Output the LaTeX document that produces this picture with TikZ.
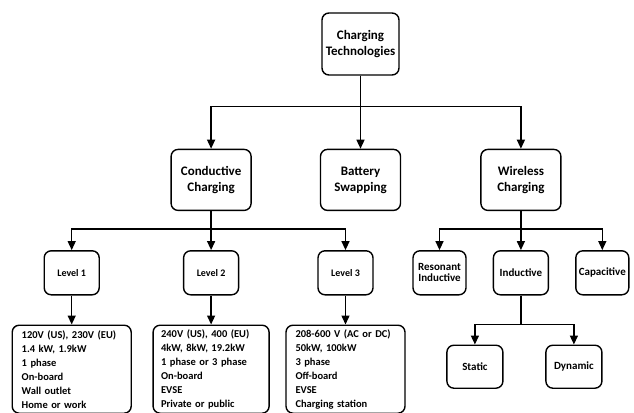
\documentclass[tikz,border=0pt]{standalone}
\usepackage{fontspec}
\setmainfont{Carlito}
\usetikzlibrary{arrows.meta, positioning}
\tikzset{
    topic/.style={
        rectangle,
        draw=black,
        line width=1.4pt,
        rounded corners=7pt,
        minimum width=80pt,
        minimum height=61pt,
        align=center,
        font=\fontsize{13}{16}\selectfont\bfseries
    },
    level/.style={
        rectangle,
        draw=black,
        line width=1.4pt,
        rounded corners=7pt,
        minimum width=55pt,
        minimum height=44pt,
        align=center,
        inner sep=2pt,
        font=\fontsize{11}{13}\selectfont\bfseries
    },
    spec/.style={
        rectangle,
        draw=black,
        line width=1.4pt,
        rounded corners=7pt,
        text width=100pt,
        minimum width=118pt,
        minimum height=88pt,
        inner ysep=1pt,
        align=left,
        font=\fontsize{10.5}{14}\selectfont\bfseries
    },
    wire/.style={
        draw=black,
        line width=1.4pt,
        -{Triangle[length=9pt,width=8pt]}
    }
}
\begin{document}
\begin{tikzpicture}[x=1pt, y=1pt]

\useasboundingbox (0,0) rectangle (634,-412);

% Root
\node[topic, minimum width=77pt, minimum height=62pt] (tech) at (360.5,-44) {Charging\\Technologies};

% Charging methods
\node[topic, below=73pt of tech] (swap) {Battery\\Swapping};
\node[topic, left=68pt of swap] (cond) {Conductive\\Charging};
\node[topic, right=79pt of swap] (wless) {Wireless\\Charging};

% Conductive levels
\node[level, below=39pt of cond, font=\fontsize{10}{12}\selectfont\bfseries] (lev2) {Level 2};
\node[level, left=83pt of lev2, font=\fontsize{10}{12}\selectfont\bfseries] (lev1) {Level 1};
\node[level, right=78pt of lev2, font=\fontsize{10}{12}\selectfont\bfseries] (lev3) {Level 3};

% Level details
\node[spec, below=29pt of lev1, minimum width=119pt] (spec1) {120V (US), 230V (EU)\\1.4 kW, 1.9kW\\1 phase\\On-board\\Wall outlet\\Home or work};
\node[spec, below=29pt of lev2, minimum width=116pt] (spec2) {240V (US), 400 (EU)\\4kW, 8kW, 19.2kW\\1 phase or 3 phase\\On-board\\EVSE\\Private or public};
\node[spec, below=29pt of lev3, minimum width=119pt] (spec3) {208-600 V (AC or DC)\\50kW, 100kW\\3 phase\\Off-board\\EVSE\\Charging station};

% Wireless types
\node[level, below=39pt of wless] (induct) {Inductive};
\node[level, left=26pt of induct, minimum width=53pt] (reson) {Resonant\\[-2pt]Inductive};
\node[level, right=26pt of induct, minimum width=53pt] (capac) {Capacitive};

% Inductive types
\node[level, below=49pt of induct, xshift=-46pt, minimum width=56pt, minimum height=43pt] (static) {Static};
\node[level, below=49pt of induct, xshift=53pt, minimum width=56pt, minimum height=43pt] (dynam) {Dynamic};

% Connections
\draw[wire] (tech.south) -- ++(0,-31) -| (cond.north);
\draw[wire] (tech.south) -- (swap.north);
\draw[wire] (tech.south) -- ++(0,-31) -| (wless.north);

\draw[wire] (cond.south) -- ++(0,-18) -| (lev1.north);
\draw[wire] (cond.south) -- (lev2.north);
\draw[wire] (cond.south) -- ++(0,-18) -| (lev3.north);

\draw[wire] (lev1) -- (spec1);
\draw[wire] (lev2) -- (spec2);
\draw[wire] (lev3) -- (spec3);

\draw[wire] (wless.south) -- ++(0,-18) -| (reson.north);
\draw[wire] (wless.south) -- (induct.north);
\draw[wire] (wless.south) -- ++(0,-18) -| (capac.north);

\draw[wire] (induct.south) -- ++(0,-29) -| (static.north);
\draw[wire] (induct.south) -- ++(0,-29) -| (dynam.north);

\end{tikzpicture}
\end{document}
